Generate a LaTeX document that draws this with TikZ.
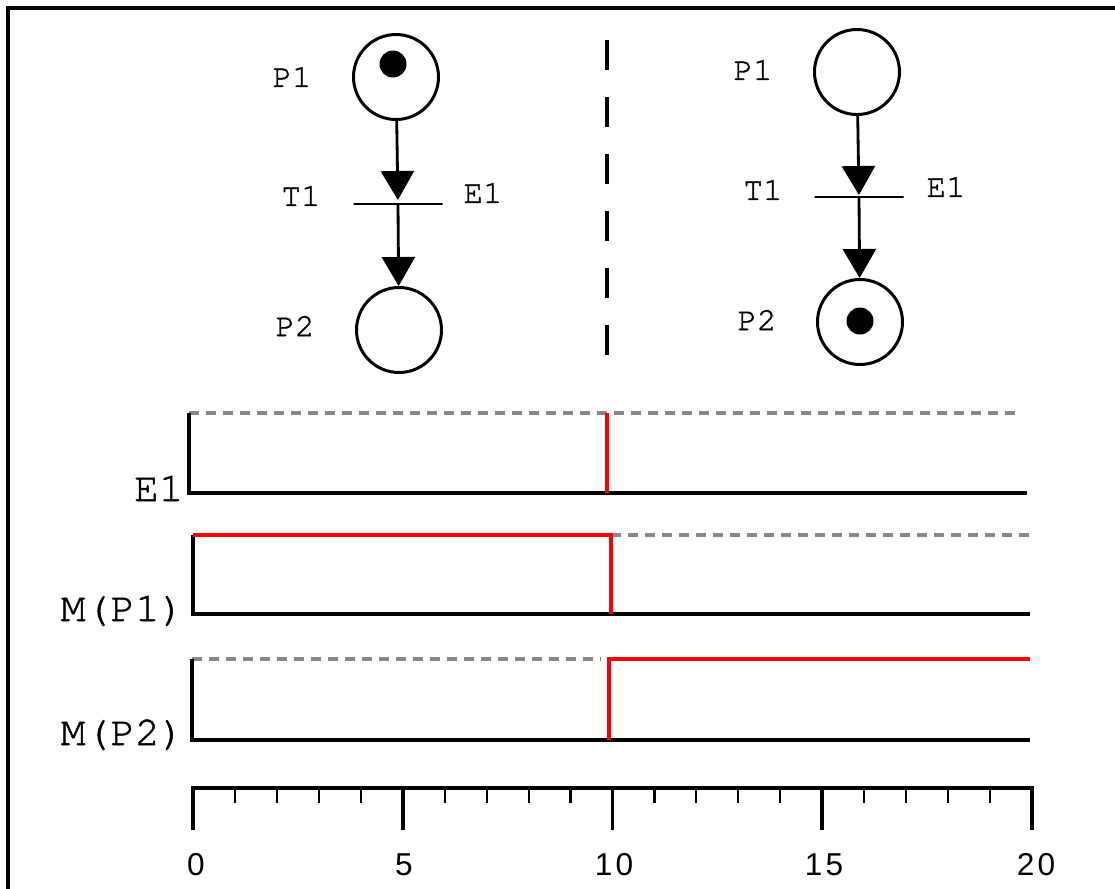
\documentclass[tikz,border=0pt]{standalone}
\usepackage{fontspec}
\newfontfamily\courfont[FakeBold=1.2]{texgyrecursor-regular.otf}
\newfontfamily\axisfont[LetterSpace=10]{Liberation Sans}
\usetikzlibrary{arrows.meta}
\definecolor{sigred}{RGB}{255,0,0}
\definecolor{levelgray}{RGB}{136,136,136}
\begin{document}
\begin{tikzpicture}[x=0.2mm,y=-0.2mm,
  place/.style={circle,draw,line width=1.7pt,minimum size=17mm,inner sep=0pt},
  token/.style={circle,fill=black,minimum size=5.4mm,inner sep=0pt},
  trans/.style={draw,line width=1.6pt,minimum width=17.8mm,minimum height=0pt,inner sep=0pt,outer sep=0pt},
  arc/.style={line width=1.6pt,-{Triangle[length=5.8mm,width=6.6mm]}},
  pnlabel/.style={font=\courfont\fontsize{18.5}{20}\selectfont,inner sep=0pt},
  siglabel/.style={font=\courfont\fontsize{23.5}{26}\selectfont,inner sep=0pt,anchor=base east},
  ticklabel/.style={font=\axisfont\fontsize{18}{20}\selectfont,inner sep=0pt,anchor=base},
  axisline/.style={line width=2pt,line join=miter},
  lowlevel/.style={line width=2pt,line join=miter},
  highlevel/.style={levelgray,line width=1.8pt,dash pattern=on 2mm off 1.4mm},
  signal/.style={sigred,line width=1.8pt,line join=miter},
  separator/.style={line width=2.2pt,dash pattern=on 6mm off 5.4mm}]
\useasboundingbox (0,0) rectangle (1115,888);

% outer frame (only the top and left sides fall inside the page)
\draw[line width=1.8pt,line join=miter] (8,900) -- (8,8) -- (1125,8);

% ---- Petri net before firing ----
\node[place] (p1L) at (396,77) {};
\node[token] (k1L) at (393,64) {};
\node[trans] (t1L) at (398,204) {};
\node[place] (p2L) at (399,330) {};
\draw[arc,shorten >=0.8mm] (p1L) -- (t1L);
\draw[arc] (t1L) -- (p2L);
\node[pnlabel] (lp1L) at (292,77) {P1};
\node[pnlabel] (lt1L) at (301,196) {T1};
\node[pnlabel] (le1L) at (483,193) {E1};
\node[pnlabel] (lp2L) at (295,326) {P2};

% separator between the two states
\coordinate (sepTop) at (607,40);
\coordinate (sepBot) at (607,362);
\draw[separator] (sepTop) -- (sepBot);

% ---- Petri net after firing ----
\node[place] (p1R) at (857,72) {};
\node[trans] (t1R) at (859,197) {};
\node[place] (p2R) at (860,322) {};
\node[token] (k2R) at (860,321) {};
\draw[arc,shorten >=0.4mm] (p1R) -- (t1R);
\draw[arc] (t1R) -- (p2R);
\node[pnlabel] (lp1R) at (753,70) {P1};
\node[pnlabel] (lt1R) at (763,190) {T1};
\node[pnlabel] (le1R) at (946,187) {E1};
\node[pnlabel] (lp2R) at (757,320) {P2};

% ---- timing diagram ----
% E1: a single pulse at t = 10
\draw[highlevel] (189,413) -- (1020,413);
\draw[lowlevel] (189,413) -- (189,493) -- (1027,493);
\draw[signal] (607,413) -- (607,493);
\node[siglabel] (sE1) at (184,501) {E1};

% M(P1): marked until t = 10
\draw[highlevel] (611,535) -- (1030,535);
\draw[lowlevel] (193,535) -- (193,614) -- (1030,614);
\draw[signal] (193,535) -- (611,535) -- (611,614);
\node[siglabel] (sP1) at (185,621) {M(P1)};

% M(P2): marked from t = 10
\draw[highlevel] (192,659) -- (601,659);
\draw[lowlevel] (192,659) -- (192,740) -- (1030,740);
\draw[signal] (609,740) -- (609,659) -- (1030,659);
\node[siglabel] (sP2) at (185,745) {M(P2)};

% ---- time axis ----
\draw[axisline] (193,830) -- (193,788) -- (1032,788) -- (1032,830);
\foreach \t in {5,10,15} {
  \draw[line width=2pt] ({193+41.95*\t},788) -- ({193+41.95*\t},830);
}
\foreach \t in {1,2,3,4,6,7,8,9,11,12,13,14,16,17,18,19} {
  \draw[line width=1.2pt] ({193+41.95*\t},788) -- ({193+41.95*\t},803);
}
\node[ticklabel] (n0) at (196,875) {0};
\node[ticklabel] (n5) at (404,875) {5};
\node[ticklabel] (n10) at (614,875) {10};
\node[ticklabel] (n15) at (824,875) {15};
\node[ticklabel] (n20) at (1036,875) {20};
\end{tikzpicture}
\end{document}
